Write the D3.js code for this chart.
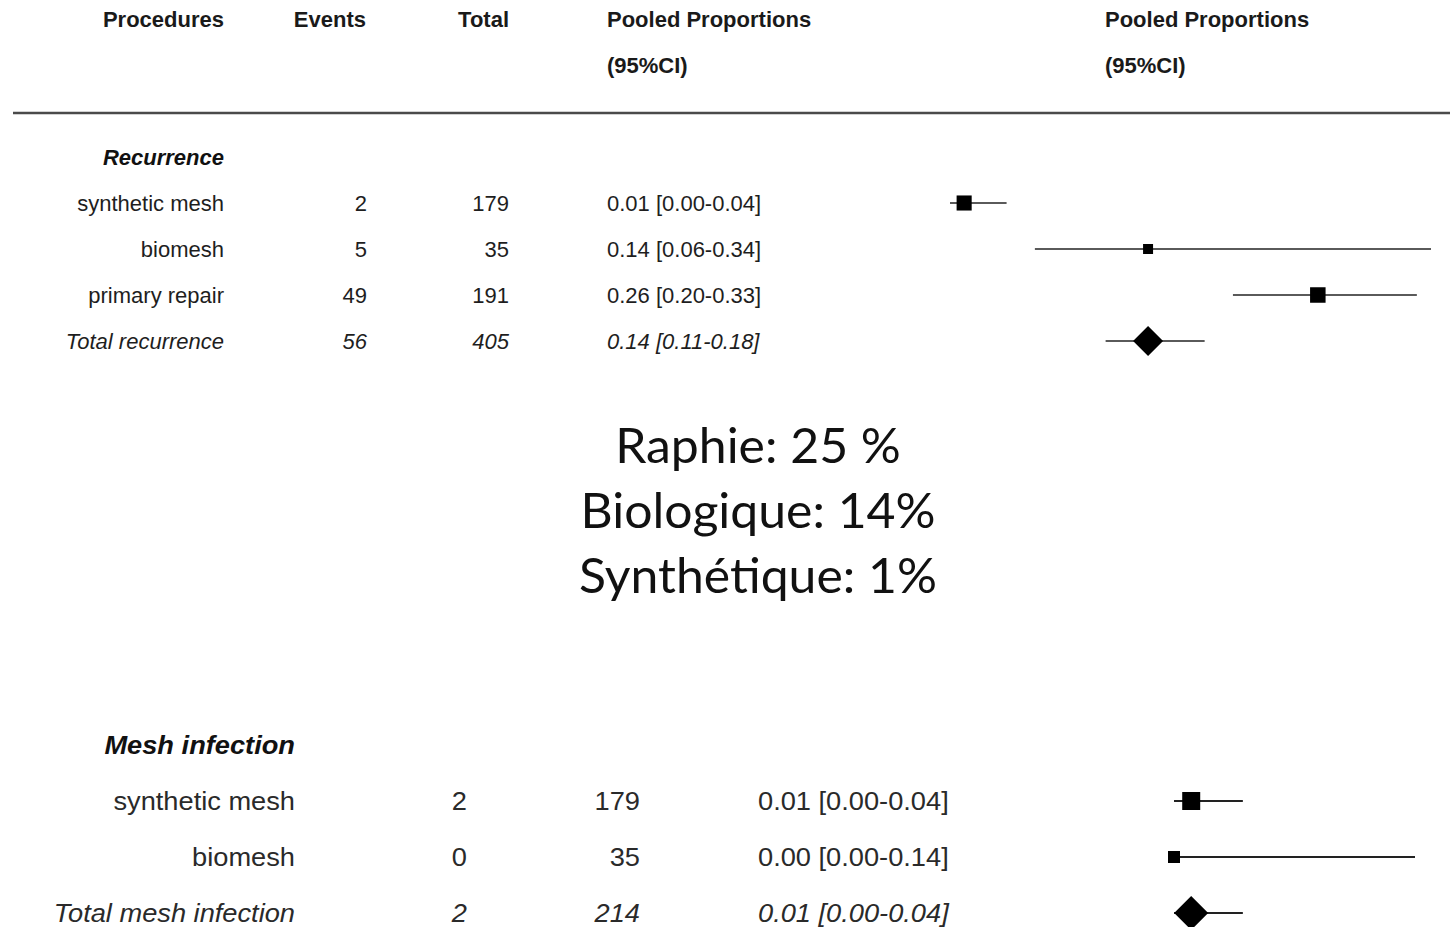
<!DOCTYPE html>
<html>
<head>
<meta charset="utf-8">
<script src="https://cdn.jsdelivr.net/npm/d3@7"></script>
<style>
  html, body { margin: 0; padding: 0; background: #ffffff; }
  svg { display: block; }
</style>
</head>
<body>
<svg id="chart" width="1450" height="927"></svg>
<script>
// ---- Recurrence (top forest plot) ----
const recurrenceProcedures = ["synthetic mesh", "biomesh", "primary repair"];
const recurrenceEvents = [2, 5, 49];
const recurrenceTotals = [179, 35, 191];
const recurrenceEstimate = [0.01, 0.14, 0.26];
const recurrenceLower = [0.00, 0.06, 0.20];
const recurrenceUpper = [0.04, 0.34, 0.33];
const recurrencePooledLabel = "Total recurrence";
const recurrencePooled = [56, 405, 0.14, 0.11, 0.18]; // events, total, estimate, lower, upper

// ---- Mesh infection (bottom forest plot) ----
const infectionProcedures = ["synthetic mesh", "biomesh"];
const infectionEvents = [2, 0];
const infectionTotals = [179, 35];
const infectionEstimate = [0.01, 0.00];
const infectionLower = [0.00, 0.00];
const infectionUpper = [0.04, 0.14];
const infectionPooledLabel = "Total mesh infection";
const infectionPooled = [2, 214, 0.01, 0.00, 0.04];

// ---- Column headings and summary lines ----
const headerTitles = ["Procedures", "Events", "Total", "Pooled Proportions", "Pooled Proportions"];
const headerSubtitles = ["(95%CI)", "(95%CI)"];
const summaryLines = ["Raphie: 25 %", "Biologique: 14%", "Synthétique: 1%"];

const svg = d3.select("#chart");
const fmt = d3.format(".2f");
const ciText = (e, l, u) => `${fmt(e)} [${fmt(l)}-${fmt(u)}]`;
const SANS = "'Liberation Sans', Arial, Helvetica, sans-serif";

function rows(names, events, totals, est, lo, hi) {
  return names.map((n, i) => ({ name: n, events: events[i], total: totals[i], est: est[i], lo: lo[i], hi: hi[i] }));
}
function pooledRow(label, p) {
  return { name: label, events: p[0], total: p[1], est: p[2], lo: p[3], hi: p[4], pooled: true };
}

// Draws one forest panel: table text plus CI lines, squares and pooled diamond
function drawPanel(g, cfg) {
  const data = cfg.rows.concat([cfg.pooled]);
  const keys = [cfg.title].concat(data.map(d => d.name));
  const y = d3.scalePoint().domain(keys).range([cfg.yTop, cfg.yBottom]);
  const x = d3.scaleLinear().domain(cfg.xDomain).range(cfg.xRange);
  const size = d3.scaleLinear().domain(cfg.sizeDomain).range(cfg.sizeRange);
  const sx = cfg.stretch;

  const txt = (sel, xPos, anchor) => sel
    .attr("transform", d => `translate(${xPos},${y(d.name)}) scale(${sx},1)`)
    .attr("text-anchor", anchor)
    .attr("dy", "0.35em")
    .attr("font-family", SANS)
    .attr("font-size", cfg.fontSize)
    .attr("fill", cfg.textColor)
    .attr("font-style", d => d.pooled ? "italic" : "normal");

  g.append("text")
    .attr("transform", `translate(${cfg.labelX},${y(cfg.title)}) scale(${sx},1)`)
    .attr("text-anchor", "end").attr("dy", "0.35em")
    .attr("font-family", SANS).attr("font-size", cfg.fontSize)
    .attr("font-weight", "bold").attr("font-style", "italic")
    .attr("fill", "#111").text(cfg.title);

  const r = g.selectAll("g.row").data(data).join("g").attr("class", "row");
  r.append("text").call(txt, cfg.labelX, "end").text(d => d.name);
  r.append("text").call(txt, cfg.eventsX, "end").text(d => d.events);
  r.append("text").call(txt, cfg.totalX, "end").text(d => d.total);
  r.append("text").call(txt, cfg.ciX, "start").text(d => ciText(d.est, d.lo, d.hi));

  r.append("line")
    .attr("x1", d => x(d.lo)).attr("x2", d => x(d.hi))
    .attr("y1", d => y(d.name)).attr("y2", d => y(d.name))
    .attr("stroke", cfg.lineColor).attr("stroke-width", 2);

  r.filter(d => !d.pooled).append("rect")
    .attr("x", d => x(d.est) - size(d.total) / 2)
    .attr("y", d => y(d.name) - size(d.total) / 2)
    .attr("width", d => size(d.total)).attr("height", d => size(d.total))
    .attr("fill", "#000");

  r.filter(d => d.pooled).append("path")
    .attr("d", d => {
      const cx = x(d.est), cy = y(d.name), h = cfg.diamond;
      return `M${cx - h},${cy}L${cx},${cy - h}L${cx + h},${cy}L${cx},${cy + h}Z`;
    })
    .attr("fill", "#000");
}

// Column headings
const head = svg.append("g").attr("font-family", SANS).attr("font-size", 22)
  .attr("font-weight", "bold").attr("fill", "#1a1a1a");
const headX = [224, 366, 509, 607, 1105];
const headAnchor = ["end", "end", "end", "start", "start"];
head.selectAll("text.t").data(headerTitles).join("text").attr("class", "t")
  .attr("x", (d, i) => headX[i]).attr("y", 19).attr("dy", "0.35em")
  .attr("text-anchor", (d, i) => headAnchor[i]).text(d => d);
head.selectAll("text.s").data(headerSubtitles).join("text").attr("class", "s")
  .attr("x", (d, i) => headX[3 + i]).attr("y", 65).attr("dy", "0.35em")
  .text(d => d);
svg.append("line").attr("x1", 13).attr("x2", 1450).attr("y1", 113).attr("y2", 113)
  .attr("stroke", "#4a4a4a").attr("stroke-width", 2.5);

// Recurrence panel
drawPanel(svg.append("g"), {
  title: "Recurrence",
  rows: rows(recurrenceProcedures, recurrenceEvents, recurrenceTotals, recurrenceEstimate, recurrenceLower, recurrenceUpper),
  pooled: pooledRow(recurrencePooledLabel, recurrencePooled),
  yTop: 157, yBottom: 341,
  xDomain: [0, 0.34], xRange: [950, 1431],
  sizeDomain: [35, 191], sizeRange: [10, 15.5],
  diamond: 15,
  labelX: 224, eventsX: 367, totalX: 509, ciX: 607,
  fontSize: 22, stretch: 1, textColor: "#1e1e1e", lineColor: "#5a5a5a"
});

// Mesh infection panel
drawPanel(svg.append("g"), {
  title: "Mesh infection",
  rows: rows(infectionProcedures, infectionEvents, infectionTotals, infectionEstimate, infectionLower, infectionUpper),
  pooled: pooledRow(infectionPooledLabel, infectionPooled),
  yTop: 745, yBottom: 913,
  xDomain: [0, 0.14], xRange: [1174, 1415],
  sizeDomain: [35, 179], sizeRange: [12, 18],
  diamond: 17,
  labelX: 295, eventsX: 467, totalX: 640, ciX: 758,
  fontSize: 25, stretch: 1.09, textColor: "#2a2a2a", lineColor: "#222"
});

// Summary lines in the middle
const summary = svg.append("g");
const st = summary.selectAll("text").data(summaryLines).join("text")
  .attr("text-anchor", "middle")
  .attr("font-family", "Lato, 'Open Sans', sans-serif")
  .attr("font-size", 48)
  .attr("fill", "#111")
  .text(d => d);
const widest = d3.max(st.nodes(), n => n.getComputedTextLength());
const stretchX = 358 / widest;
const baseY = [463, 528, 593];
st.attr("transform", (d, i) => `translate(758,${baseY[i]}) scale(${stretchX},1)`);
</script>
</body>
</html>
